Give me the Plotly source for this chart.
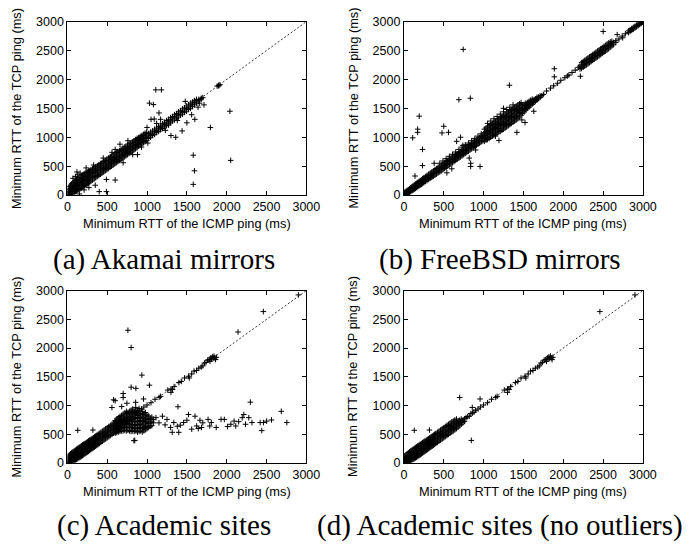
import plotly.graph_objects as go

# ---------------------------------------------------------------------------
# Minimum RTT (ms): ICMP ping (x) vs TCP ping (y), four host populations.
# Dense clouds are listed as rows: (icmp_ms, [tcp_ms, tcp_ms, ...]).
# Isolated hosts are listed as (icmp_ms, tcp_ms) pairs.
# ---------------------------------------------------------------------------

axis_range = [0, 3000]
tick_values = [0, 500, 1000, 1500, 2000, 2500, 3000]
diagonal = [0, 3000]

x_title = "Minimum RTT of the ICMP ping (ms)"
y_title = "Minimum RTT of the TCP ping (ms)"
captions = ["(a) Akamai mirrors", "(b) FreeBSD mirrors",
            "(c) Academic sites", "(d) Academic sites (no outliers)"]

akamai_rows = [
    (10, [0, 25, 60, 110]), (25, [5, 45, 90, 150]), (40, [15, 60, 115, 170]), (55, [25, 80, 130, 195]),
    (70, [35, 95, 150, 215, 290]), (85, [50, 110, 165, 230]), (100, [60, 120, 185, 250, 320]),
    (115, [70, 140, 200, 265]), (130, [85, 150, 215, 280, 350]), (145, [95, 165, 230, 300]),
    (160, [110, 180, 245, 310, 380]), (175, [120, 195, 260, 330]), (190, [140, 210, 275, 345]),
    (205, [150, 225, 290, 360]), (220, [165, 240, 300, 375]), (235, [180, 250, 320, 390, 470]),
    (250, [195, 265, 330, 400]), (265, [210, 280, 345, 415]), (280, [225, 295, 360, 425]),
    (295, [240, 310, 370, 440]), (315, [260, 325, 390, 455]), (335, [280, 345, 410, 470]),
    (355, [300, 365, 425, 490]), (375, [320, 385, 445, 505]), (395, [340, 400, 465, 525]),
    (415, [360, 420, 480, 545]), (435, [380, 440, 500, 560]), (455, [400, 460, 520, 580]),
    (475, [420, 480, 540, 600]), (495, [440, 500, 555, 620]), (515, [460, 520, 575, 640]),
    (535, [480, 540, 595, 655]), (555, [500, 560, 615, 675]), (575, [520, 580, 635, 695]),
    (595, [540, 600, 650, 715]), (615, [560, 615, 670, 735]), (635, [580, 635, 690, 750]),
    (655, [600, 655, 710, 770]), (675, [620, 675, 730, 790]), (695, [640, 695, 750, 810]),
    (715, [660, 715, 770, 830]), (735, [680, 735, 790, 845]), (755, [700, 755, 810, 865]),
    (775, [720, 775, 825, 885]), (795, [740, 795, 845, 900]), (815, [760, 815, 865, 920]),
    (835, [780, 835, 885, 940]), (855, [800, 855, 905, 960]), (875, [820, 875, 925, 980]),
    (895, [845, 895, 945, 995]), (915, [865, 915, 960, 1015]), (935, [885, 935, 980, 1030]),
    (955, [905, 955, 1000, 1050]), (975, [925, 975, 1020, 1070]), (995, [945, 995, 1040, 1085]),
    (1020, [980, 1020, 1065]), (1045, [1000, 1045, 1090]), (1070, [1030, 1070, 1110]),
    (1095, [1050, 1095, 1140]), (1120, [1080, 1120, 1160]), (1145, [1100, 1145, 1185]),
    (1170, [1130, 1170, 1210]), (1195, [1150, 1195, 1235]), (1220, [1180, 1220, 1260]),
    (1245, [1200, 1245, 1290]), (1270, [1230, 1270, 1310]), (1295, [1250, 1295, 1340]),
    (1320, [1280, 1320, 1360]), (1345, [1300, 1345, 1390]), (1370, [1330, 1370, 1410]),
    (1395, [1350, 1395, 1440]), (1420, [1380, 1420, 1460]), (1445, [1400, 1445, 1490]),
    (1470, [1430, 1470, 1510]), (1495, [1450, 1495, 1540]), (1520, [1480, 1520, 1560]),
    (1545, [1500, 1545, 1590]), (1570, [1530, 1570, 1610]), (1595, [1560, 1600, 1635]),
    (1620, [1590, 1625, 1655]), (1650, [1630, 1655]), (1680, [1660, 1675]), (1700, [1685]),
    (1880, [1885]), (1900, [1890, 1900]), (1915, [1910]),
]

akamai_scatter = [
    (1110, 1820), (1180, 1820), (1030, 1590), (1080, 1565), (1050, 1310), (1090, 1315), (1170, 1310),
    (1150, 1420), (2040, 1450), (1795, 1170), (1580, 690), (1595, 420), (1580, 185), (2050, 600), (490, 270),
    (400, 60), (490, 60), (600, 260), (350, 170), (1300, 1030), (1360, 1000), (1440, 1110), (1500, 1250),
    (1560, 1390), (1600, 1310), (1715, 1560), (930, 830), (540, 660), (1000, 1170), (600, 790), (560, 740),
    (700, 560), (880, 700), (1270, 1210), (1640, 1520), (150, 20), (210, 90), (270, 130), (120, 400),
    (330, 520), (450, 640), (660, 880), (760, 940), (820, 700), (1010, 900), (1120, 1240), (1230, 1120),
    (1380, 1290), (1480, 1620), (1660, 1590),
]

freebsd_rows = [
    (10, [0, 20, 50]), (25, [10, 30, 65]), (40, [20, 45, 80]), (55, [35, 60, 95]), (70, [45, 75, 110]),
    (85, [60, 90, 125]), (100, [75, 105, 140]), (115, [85, 120, 160]), (130, [100, 135, 175]),
    (145, [115, 150, 190]), (160, [130, 165, 205]), (175, [145, 180, 220]), (190, [160, 195, 235]),
    (205, [175, 210, 250]), (220, [185, 225, 265]), (235, [200, 240, 285]), (250, [215, 255, 300]),
    (270, [235, 275, 320]), (290, [250, 295, 340]), (310, [270, 315, 360]), (330, [290, 335, 380]),
    (350, [305, 355, 400]), (370, [325, 375, 420]), (390, [345, 395, 440]), (410, [365, 415, 460]),
    (430, [385, 435, 480]), (450, [400, 450, 500, 550]), (470, [420, 470, 520]), (490, [440, 490, 540, 590]),
    (510, [460, 510, 560]), (530, [480, 530, 580, 630]), (550, [500, 550, 600]), (570, [520, 570, 620, 670]),
    (590, [540, 590, 640]), (610, [560, 610, 660, 705]), (630, [580, 630, 680]), (650, [600, 650, 700, 745]),
    (670, [620, 670, 715]), (690, [640, 690, 735, 790]), (710, [660, 710, 755]), (730, [680, 730, 775, 830]),
    (750, [700, 750, 795]), (770, [720, 770, 815, 870]), (790, [740, 790, 835]), (810, [760, 810, 855, 900]),
    (830, [780, 830, 875]), (850, [800, 850, 895, 940]), (870, [820, 870, 915]), (890, [840, 890, 935, 980]),
    (910, [860, 910, 955]), (930, [880, 930, 975, 1020]), (950, [900, 950, 995]), (970, [920, 970, 1015, 1060]),
    (990, [940, 990, 1035]),
    (1010, [930, 980, 1030, 1080, 1140]), (1030, [950, 1000, 1050, 1100, 1160]),
    (1050, [960, 1020, 1070, 1120, 1180, 1240]), (1070, [980, 1040, 1090, 1140, 1200]),
    (1090, [1000, 1060, 1110, 1160, 1220, 1280]), (1110, [1020, 1080, 1130, 1180, 1240]),
    (1130, [1030, 1090, 1150, 1200, 1260, 1320]), (1150, [1050, 1110, 1170, 1220, 1280]),
    (1170, [1070, 1130, 1190, 1240, 1300, 1360]), (1190, [1090, 1150, 1210, 1260, 1320]),
    (1210, [1100, 1160, 1220, 1280, 1340, 1400]), (1230, [1120, 1180, 1240, 1300, 1360]),
    (1250, [1140, 1200, 1260, 1320, 1380, 1440]), (1270, [1160, 1220, 1280, 1340, 1400]),
    (1290, [1180, 1240, 1300, 1360, 1420, 1480]), (1310, [1200, 1260, 1320, 1380, 1440]),
    (1330, [1220, 1280, 1340, 1400, 1460, 1520]), (1350, [1240, 1300, 1360, 1420, 1480]),
    (1370, [1260, 1320, 1380, 1440, 1500, 1560]), (1390, [1280, 1340, 1400, 1460, 1520]),
    (1410, [1300, 1360, 1420, 1480, 1540]), (1430, [1320, 1380, 1440, 1500, 1560]),
    (1450, [1350, 1410, 1460, 1520, 1580]), (1470, [1380, 1430, 1480, 1540, 1600]),
    (1490, [1410, 1460, 1500, 1560]), (1510, [1440, 1480, 1520, 1570]), (1530, [1470, 1500, 1540, 1590]),
    (1550, [1500, 1530, 1560, 1600]), (1570, [1520, 1550, 1580, 1620]), (1590, [1550, 1575, 1600, 1640]),
    (1610, [1570, 1600, 1625, 1660]), (1630, [1600, 1620, 1645]), (1650, [1620, 1640, 1665]),
    (1670, [1645, 1665, 1690]), (1690, [1670, 1695]), (1710, [1690, 1715]), (1730, [1720]), (1750, [1740]),
    (1790, [1800]), (1840, [1850]), (1880, [1890]), (1930, [1935]), (1970, [1985]), (2020, [2030]),
    (2070, [2075]), (2110, [2120]), (2150, [2160]), (2190, [2210]),
    (2210, [2180, 2230]), (2230, [2190, 2250, 2290]), (2250, [2210, 2260, 2310]), (2270, [2230, 2280, 2330]),
    (2290, [2250, 2300, 2350]), (2310, [2270, 2320, 2370]), (2330, [2290, 2340, 2390]),
    (2350, [2310, 2360, 2410]), (2370, [2330, 2380, 2430]), (2390, [2350, 2400, 2450]),
    (2410, [2370, 2420, 2470]), (2430, [2390, 2440, 2490]), (2450, [2410, 2460, 2510]),
    (2470, [2430, 2480, 2530]), (2490, [2450, 2500, 2550]), (2510, [2470, 2520, 2570]),
    (2530, [2490, 2540, 2590]), (2550, [2510, 2560, 2610]), (2570, [2530, 2580, 2630]),
    (2590, [2560, 2600, 2650]), (2610, [2580, 2620, 2660]), (2630, [2600, 2640]), (2660, [2640, 2670]),
    (2700, [2700]), (2740, [2750]), (2780, [2790]),
    (2820, [2810, 2840]), (2840, [2830, 2860]), (2860, [2850, 2880]), (2880, [2870, 2900]),
    (2900, [2890, 2920]), (2920, [2910, 2940]), (2940, [2930, 2955]), (2960, [2950, 2975]),
    (2980, [2970, 2995]), (2995, [2990]),
]

freebsd_scatter = [
    (744, 2520), (1324, 1900), (834, 1675), (690, 1650), (192, 1365), (172, 1140), (172, 1085), (110, 990),
    (233, 790), (500, 1190), (478, 1075), (560, 1085), (662, 930), (711, 1000), (233, 510), (139, 330), (956, 495),
    (838, 550), (838, 495), (601, 455), (539, 385), (1888, 2185), (1888, 2045), (2052, 2060), (2215, 2055),
    (1418, 1085), (1193, 945), (1520, 1255), (2501, 2830), (2677, 2775), (2746, 2720), (1250, 1500), (1150, 1020),
    (1630, 1450), (740, 860), (820, 640), (900, 780), (380, 550), (1480, 1300),
]

academic_rows = [
    (10, [0, 30, 70, 120]), (25, [5, 45, 90, 140]), (40, [10, 55, 105, 160]), (55, [20, 70, 120, 180]),
    (70, [30, 85, 135, 195]), (85, [40, 100, 150, 210]), (100, [55, 110, 165, 225]), (115, [65, 125, 180, 240]),
    (130, [75, 140, 195, 255]), (145, [90, 150, 210, 270]), (160, [100, 165, 225, 285]),
    (175, [115, 180, 240, 300]), (190, [130, 195, 255, 315]), (205, [145, 210, 265, 330]),
    (220, [160, 225, 280, 340]), (235, [175, 240, 295, 355]), (250, [190, 250, 310, 370]),
    (265, [205, 265, 325, 385]), (280, [220, 280, 340, 400]), (295, [235, 295, 355, 410]),
    (310, [250, 310, 365, 425]), (325, [265, 325, 380, 440]), (340, [280, 340, 395, 455]),
    (355, [295, 355, 410, 470]), (370, [310, 370, 425, 485]), (385, [325, 385, 440, 500]),
    (400, [340, 400, 455, 515]), (420, [360, 420, 475, 535]), (440, [380, 440, 495, 555]),
    (460, [400, 460, 515, 575]), (480, [420, 480, 535, 595]), (500, [440, 500, 555, 615]),
    (520, [460, 520, 575, 635]), (540, [480, 540, 595, 655]), (560, [500, 560, 615, 675]),
    (580, [520, 580, 635, 695]), (600, [540, 600, 655, 715]), (620, [560, 620, 675, 730]),
    (640, [580, 640, 690, 750]), (660, [600, 660, 710, 765]), (680, [625, 680, 730]), (700, [650, 700, 745]),
    (720, [675, 720, 765]), (740, [700, 745]), (760, [725, 770]),
    (780, [790]), (800, [810]), (820, [815]), (840, [860]), (860, [870]), (880, [885]), (900, [920]),
    (930, [940]), (960, [975]), (1000, [1010]), (1050, [1050]), (1100, [1110]), (1170, [1160]),
    (1260, [1270]), (1300, [1230, 1290]), (1320, [1280]), (1340, [1330]), (1400, [1400]), (1430, [1420]),
    (1470, [1480]), (1520, [1510]), (1530, [1480]), (1560, [1550]), (1590, [1600]), (1620, [1610]),
    (1650, [1650]), (1680, [1670]), (1700, [1690]), (1720, [1740]), (1740, [1750]), (1760, [1790]),
    (1780, [1800]), (1790, [1770]), (1800, [1830]), (1810, [1810]), (1820, [1850]), (1830, [1820]),
    (1840, [1860]), (1850, [1830]), (1860, [1800]), (1870, [1840]),
]

academic_scatter = [
    (130, 570), (320, 575), (2460, 2635), (2900, 2925), (700, 1140), (956, 1115), (1152, 1143), (858, 968),
    (846, 394),
]

academic_outlier_rows = [
    (600, [520, 560, 690, 740]), (620, [530, 580, 710, 770]), (640, [540, 600, 720, 790]),
    (660, [550, 610, 740, 810]), (680, [560, 600, 650, 760, 830]), (700, [560, 610, 680, 780, 850]),
    (720, [570, 620, 680, 740, 800, 870]), (740, [560, 620, 680, 800, 860, 900]),
    (760, [570, 630, 690, 740, 820, 880]), (780, [560, 620, 680, 730, 840, 900]),
    (800, [550, 610, 660, 720, 760, 860, 920]), (820, [560, 620, 670, 730, 770, 880, 940]),
    (840, [550, 600, 660, 720, 780, 900]), (860, [560, 610, 670, 730, 790, 840, 910]),
    (880, [540, 600, 660, 720, 780, 830, 890]), (900, [550, 610, 670, 730, 790, 850, 950]),
    (920, [560, 620, 680, 740, 800, 860]), (940, [540, 600, 660, 720, 780, 840, 900]),
    (960, [560, 620, 680, 740, 800, 860]), (980, [580, 640, 700, 760, 820, 880]),
    (1000, [600, 660, 720, 780, 840]), (1020, [620, 690, 760, 820]), (1040, [640, 710, 780]),
    (1060, [650, 730, 800]), (1080, [700, 760]),
]

academic_outliers = [
    (760, 2310), (800, 2010), (935, 1530), (800, 1320), (860, 1300), (1030, 1355), (700, 1210), (600, 1085),
    (580, 1100), (559, 966), (682, 983), (747, 1040), (857, 1057), (2142, 2280), (1388, 980), (2297, 1060),
    (1112, 790), (1193, 815), (1296, 620), (1336, 705), (1226, 665), (1418, 660), (1459, 705), (1500, 745),
    (1520, 845), (1602, 815), (1664, 745), (1623, 645), (1684, 620), (1766, 760), (1807, 705), (1868, 620),
    (1929, 760), (1970, 760), (2093, 730), (2113, 645), (2215, 845), (2236, 675), (2195, 790), (2277, 790),
    (2317, 705), (2420, 705), (2461, 705), (2440, 565), (2501, 730), (2562, 750), (2685, 900), (2755, 705),
    (1316, 535), (1398, 535), (1561, 590), (1643, 600), (1787, 645), (2052, 675), (2011, 635), (1150, 700),
    (1250, 760), (1380, 640), (1700, 700), (2150, 720), (835, 390),
]


def flatten(rows):
    return [(x, y) for x, ys in rows for y in ys]


academic_core = flatten(academic_rows) + academic_scatter
panels = [
    flatten(akamai_rows) + akamai_scatter,
    flatten(freebsd_rows) + freebsd_scatter,
    academic_core + flatten(academic_outlier_rows) + academic_outliers,
    academic_core,
]

# ---------------------------------------------------------------------------
# Layout geometry (pixels on a 693 x 550 canvas)
# ---------------------------------------------------------------------------
W, H = 693, 550
plot_boxes = [  # left, right, top, bottom of each plotting area
    (66, 311, 15, 193),
    (411, 656, 15, 193),
    (66, 311, 291, 468),
    (411, 656, 291, 468),
]
caption_pos = [(165, 259), (510, 259), (165, 532), (510, 532)]

SANS = "Liberation Sans"
SERIF = "Liberation Serif"

fig = go.Figure()
layout = dict(
    width=W, height=H,
    margin=dict(l=0, r=0, t=0, b=0),
    paper_bgcolor="white", plot_bgcolor="white",
    showlegend=False,
    annotations=[],
)

for i, (pts, box) in enumerate(zip(panels, plot_boxes)):
    n = "" if i == 0 else str(i + 1)
    xa, ya = "x" + n, "y" + n
    left, right, top, bottom = box
    axis_common = dict(
        range=axis_range, tickvals=tick_values, ticks="inside", ticklen=4,
        tickwidth=1, tickcolor="black", showline=True, linecolor="black",
        linewidth=1, mirror="ticks", showgrid=False, zeroline=False,
        tickfont=dict(family=SANS, size=12.5, color="black"), fixedrange=True,
    )
    layout["xaxis" + n] = dict(axis_common, domain=[left / W, right / W], anchor=ya)
    layout["yaxis" + n] = dict(axis_common, domain=[1 - bottom / H, 1 - top / H], anchor=xa)

    # y = x reference line
    fig.add_trace(go.Scatter(
        x=diagonal, y=diagonal, mode="lines", xaxis=xa, yaxis=ya,
        line=dict(color="black", width=0.8, dash="2px,2px"), hoverinfo="skip",
    ))
    fig.add_trace(go.Scatter(
        x=[p[0] for p in pts], y=[p[1] for p in pts], mode="markers",
        xaxis=xa, yaxis=ya,
        marker=dict(symbol="cross-thin", size=4, color="black",
                    line=dict(color="black", width=1)),
    ))

    cx = (left + right) / 2
    cy = (top + bottom) / 2
    layout["annotations"].append(dict(
        text=x_title, x=cx / W, y=1 - (bottom + 29) / H, xref="paper", yref="paper",
        xanchor="center", yanchor="middle", showarrow=False,
        font=dict(family=SANS, size=12.8, color="black"),
    ))
    layout["annotations"].append(dict(
        text=y_title, x=(left - 52) / W, y=1 - cy / H, xref="paper", yref="paper",
        xanchor="center", yanchor="middle", showarrow=False, textangle=-90,
        font=dict(family=SANS, size=12.8, color="black"),
    ))
    capx, capy = caption_pos[i]
    layout["annotations"].append(dict(
        text=captions[i], x=capx / W, y=1 - capy / H, xref="paper", yref="paper",
        xanchor="center", yanchor="middle", showarrow=False,
        font=dict(family=SERIF, size=29, color="black"),
    ))

fig.update_layout(**layout)
fig.write_html("out.html")
